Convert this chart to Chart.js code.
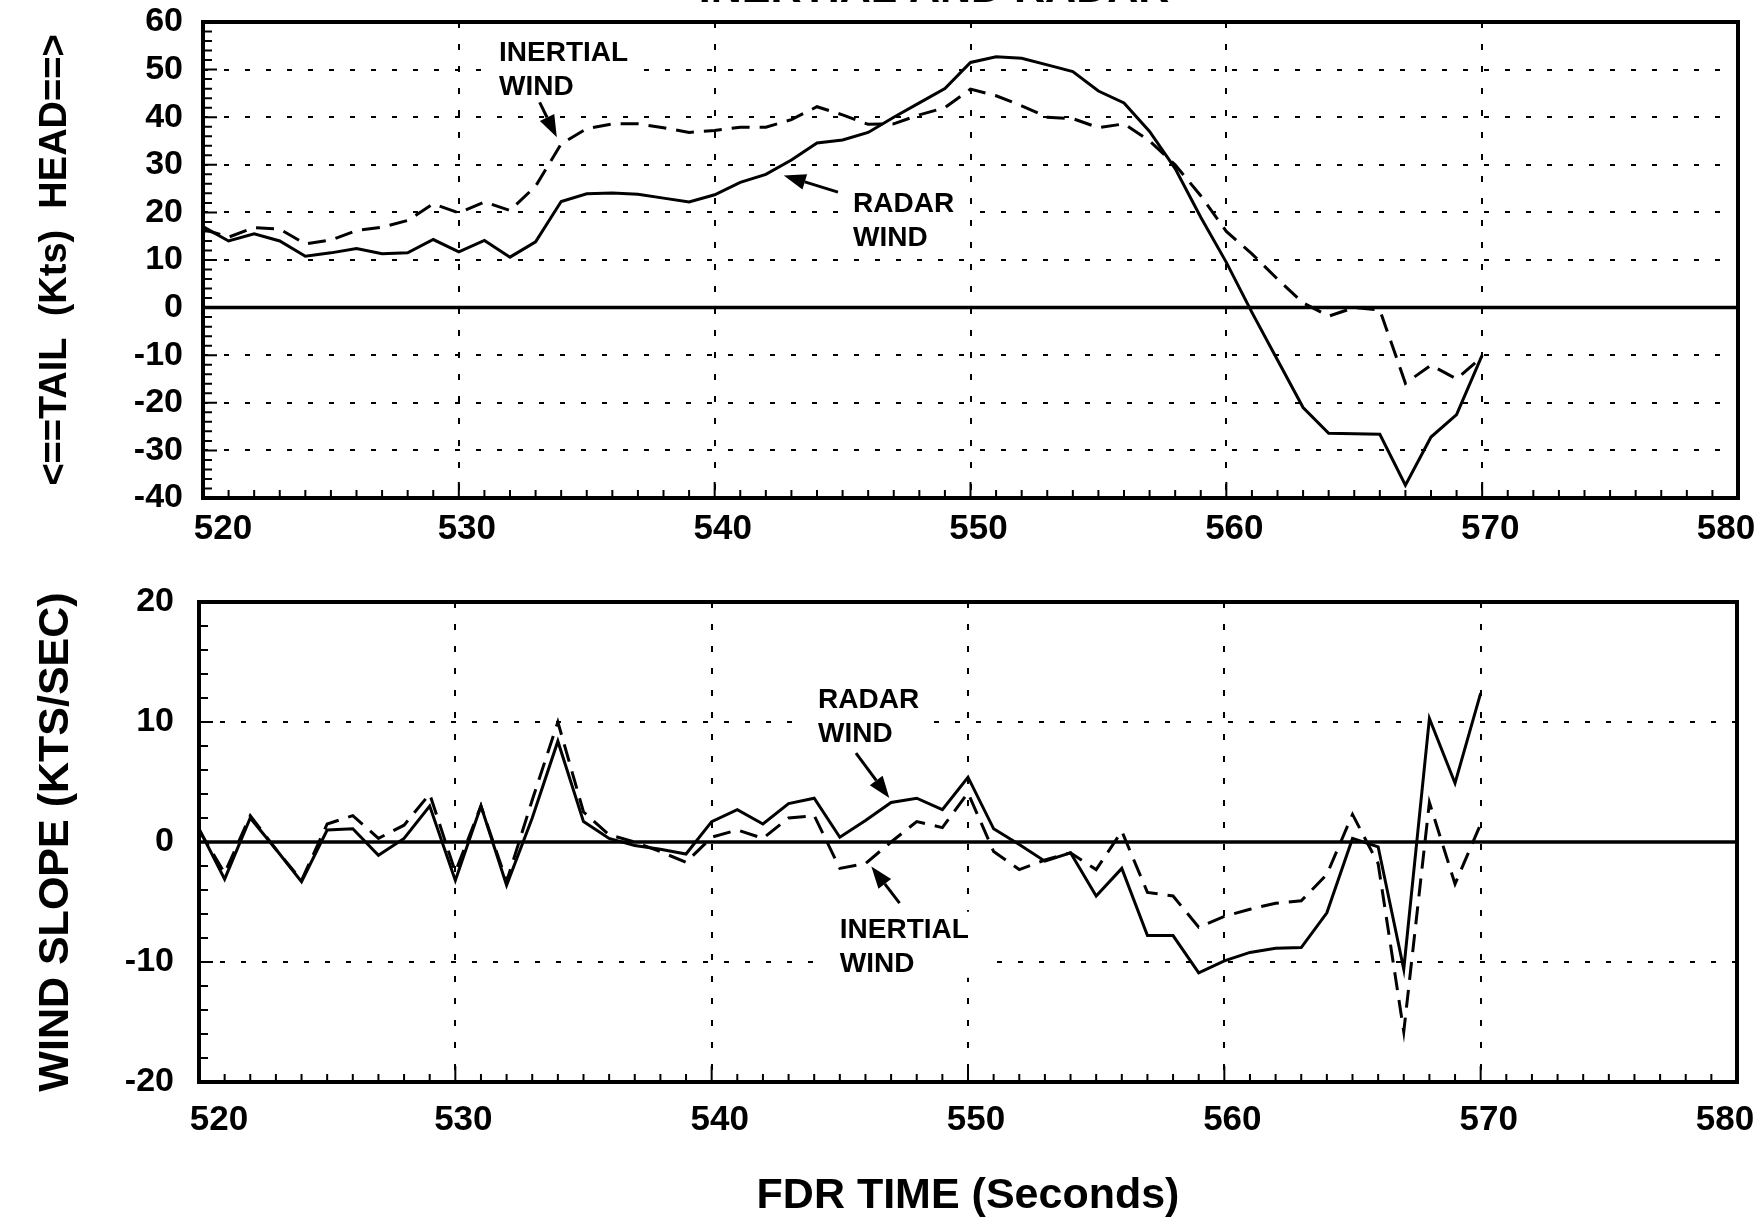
<!DOCTYPE html>
<html>
<head>
<meta charset="utf-8">
<title>Inertial and radar wind</title>
<script src="https://cdn.jsdelivr.net/npm/chart.js@4.4.1/dist/chart.umd.min.js"></script>
<style>
  html, body { margin: 0; padding: 0; background: #fff; }
  #wrap { position: relative; width: 1761px; height: 1218px; overflow: hidden; background: #fff; }
  canvas { position: absolute; left: 0; }
  #windChart { top: 0; }
  #slopeChart { top: 560px; }
</style>
</head>
<body>
<div id="wrap">
  <canvas id="windChart" width="1761" height="560"></canvas>
  <canvas id="slopeChart" width="1761" height="658"></canvas>
</div>
<script>
var FONT = "'Liberation Sans', Arial, Helvetica, sans-serif";

// FDR time, one sample per second
var seconds = [520, 521, 522, 523, 524, 525, 526, 527, 528, 529,
               530, 531, 532, 533, 534, 535, 536, 537, 538, 539,
               540, 541, 542, 543, 544, 545, 546, 547, 548, 549,
               550, 551, 552, 553, 554, 555, 556, 557, 558, 559,
               560, 561, 562, 563, 564, 565, 566, 567, 568, 569, 570];

// upper panel: head / tail wind (kts)
var radarWind = [17, 14, 15.5, 14, 10.8, 11.5, 12.4, 11.3, 11.5, 14.3,
                 11.7, 14.1, 10.6, 13.8, 22.3, 23.9, 24.1, 23.8, 23, 22.2,
                 23.7, 26.3, 28, 31, 34.6, 35.2, 36.8, 40, 43, 46,
                 51.5, 52.7, 52.4, 51, 49.6, 45.5, 43, 37, 29.2, 19,
                 9.5, -1, -11, -21, -26.4, -26.5, -26.6, -37.3, -27.2, -22.5, -10];
var inertialWind = [16.5, 14.8, 16.8, 16.5, 13.4, 14.2, 16.2, 16.9, 18.3, 21.8,
                    19.9, 22.2, 20.4, 25.5, 34.4, 37.6, 38.6, 38.6, 37.8, 36.8,
                    37.2, 37.9, 37.9, 39.5, 42.2, 40.5, 38.5, 38.6, 40.5, 42,
                    45.9, 44.5, 42.4, 40, 39.7, 37.8, 38.6, 35, 30, 23.5,
                    16, 11.3, 6, 1, -1.8, 0, -0.5, -15.9, -12.1, -15, -10.3];

// lower panel: wind slope (kts/sec)
var radarSlope = [1.1, -3.1, 2, -0.6, -3.3, 1, 1.1, -1.1, 0.3, 3,
                  -3.2, 3, -3.6, 2, 8.4, 1.7, 0.3, -0.3, -0.6, -1,
                  1.7, 2.7, 1.5, 3.2, 3.65, 0.4, 1.8, 3.3, 3.65, 2.7,
                  5.4, 1.1, -0.2, -1.6, -0.9, -4.5, -2.2, -7.8, -7.8, -10.9,
                  -9.9, -9.2, -8.85, -8.8, -5.9, 0.3, -0.4, -10.6, 10.3, 4.9, 12.4];
var inertialSlope = [1, -2.6, 2.2, -0.6, -3.2, 1.5, 2.2, 0.3, 1.4, 4,
                     -2.5, 3, -3.3, 3.5, 10, 2.5, 0.6, 0, -0.8, -1.7,
                     0.4, 1, 0.3, 2, 2.2, -2.2, -1.8, 0, 1.7, 1.2,
                     4.1, -0.8, -2.3, -1.5, -0.9, -2.3, 0.9, -4.2, -4.5, -7.1,
                     -6.2, -5.6, -5.1, -4.9, -2.7, 2.3, -1.8, -15.8, 3.3, -3.5, 1.5];

var timeTicks = [520, 530, 540, 550, 560, 570, 580];
var windTicks = [-40, -30, -20, -10, 0, 10, 20, 30, 40, 50, 60];
var slopeTicks = [-20, -10, 0, 10, 20];

function pairs(values) {
  return seconds.map(function (s, i) { return { x: s, y: values[i] }; });
}

function series(label, values, dash) {
  return { label: label, data: pairs(values), borderColor: '#000', borderWidth: 3,
           borderDash: dash, pointRadius: 0, tension: 0, fill: false };
}

function fixedTicks(list) {
  return function (scale) { scale.ticks = list.map(function (v) { return { value: v }; }); };
}

// hide the grid at the frame edges and at zero (zero is drawn solid by the plugin)
function gridColor(list) {
  return function (c) {
    var v = c.tick ? c.tick.value : null;
    return (v === list[0] || v === list[list.length - 1] || v === 0) ? 'rgba(0,0,0,0)' : '#000';
  };
}

function xAxis(boxHeight, title) {
  return {
    type: 'linear', min: timeTicks[0], max: timeTicks[timeTicks.length - 1],
    afterBuildTicks: fixedTicks(timeTicks),
    afterFit: function (s) { s.height = boxHeight; s.paddingLeft = 0; s.paddingRight = 0; },
    grid: { color: gridColor(timeTicks), lineWidth: 2, drawTicks: false },
    border: { display: false, dash: [6, 16] },
    ticks: { display: false },   // labels are set by the sketch plugin
    title: title || { display: false }
  };
}

function yAxis(list, boxWidth, labelPad, titleText, titleSize) {
  return {
    type: 'linear', min: list[0], max: list[list.length - 1],
    afterBuildTicks: fixedTicks(list),
    afterFit: function (s) { s.width = boxWidth; s.paddingTop = 0; s.paddingBottom = 0; },
    grid: { color: gridColor(list), lineWidth: 2, drawTicks: false },
    border: { display: false, dash: [5, 16] },
    ticks: { color: '#000', padding: labelPad, font: { family: FONT, size: 34, weight: 'bold' } },
    title: { display: true, text: titleText, color: '#000',
             font: { family: FONT, size: titleSize, weight: 'bold', lineHeight: 1 },
             padding: { top: 56 - titleSize / 2, bottom: 0 } }
  };
}

function arrow(ctx, x1, y1, x2, y2) {
  var ang = Math.atan2(y2 - y1, x2 - x1), L = 22, W = 8;
  var bx = x2 - L * Math.cos(ang), by = y2 - L * Math.sin(ang);
  ctx.lineWidth = 3;
  ctx.beginPath(); ctx.moveTo(x1, y1); ctx.lineTo(bx, by); ctx.stroke();
  ctx.beginPath();
  ctx.moveTo(x2, y2);
  ctx.lineTo(bx + W * Math.sin(ang), by - W * Math.cos(ang));
  ctx.lineTo(bx - W * Math.sin(ang), by + W * Math.cos(ang));
  ctx.closePath(); ctx.fill();
}

// frame, solid zero line, inner minor ticks, time labels, callout labels
function sketch(cfg) {
  return {
    id: 'sketch',
    beforeDatasetsDraw: function (chart) {
      var ctx = chart.ctx, a = chart.chartArea, x = chart.scales.x, y = chart.scales.y;
      ctx.save();
      ctx.strokeStyle = '#000'; ctx.fillStyle = '#000';

      var y0 = y.getPixelForValue(0);
      ctx.lineWidth = 3.5;
      ctx.beginPath(); ctx.moveTo(a.left, y0); ctx.lineTo(a.right, y0); ctx.stroke();

      ctx.lineWidth = 2;
      ctx.beginPath();
      for (var s = x.min + 1; s < x.max; s++) {
        var px = x.getPixelForValue(s);
        ctx.moveTo(px, a.bottom); ctx.lineTo(px, a.bottom - (s % 10 === 0 ? 16 : 8));
      }
      for (var v = y.min + 2; v < y.max; v += 2) {
        var py = y.getPixelForValue(v);
        ctx.moveTo(a.left, py); ctx.lineTo(a.left + (v % 10 === 0 ? 14 : 9), py);
      }
      ctx.stroke();

      ctx.lineWidth = 4;
      ctx.strokeRect(a.left, a.top, a.right - a.left, a.bottom - a.top);

      // time labels: end labels pulled inside the frame as on the original plot
      ctx.font = 'bold 35px ' + FONT;
      ctx.textAlign = 'center'; ctx.textBaseline = 'middle';
      timeTicks.forEach(function (t, i) {
        var shift = i === 0 ? 20 : (i === timeTicks.length - 1 ? -12 : 8);
        ctx.fillText(String(t), x.getPixelForValue(t) + shift, a.bottom + cfg.labelGap);
      });

      ctx.font = 'bold 28px ' + FONT;
      ctx.textAlign = 'left'; ctx.textBaseline = 'alphabetic';
      cfg.notes.forEach(function (n) {
        var tx = x.getPixelForValue(n.at[0]), ty = y.getPixelForValue(n.at[1]);
        var w = Math.max.apply(null, n.text.map(function (t) { return ctx.measureText(t).width; }));
        ctx.fillStyle = '#fff';
        ctx.fillRect(tx - 14, ty - 26, w + 28, 34 * (n.text.length - 1) + 32);
        ctx.fillStyle = '#000';
        n.text.forEach(function (t, i) { ctx.fillText(t, tx, ty + 34 * i); });
        arrow(ctx, x.getPixelForValue(n.from[0]), y.getPixelForValue(n.from[1]),
                   x.getPixelForValue(n.to[0]), y.getPixelForValue(n.to[1]));
      });

      if (cfg.heading) {
        ctx.font = 'bold 43px ' + FONT;
        ctx.textAlign = 'center';
        ctx.fillText(cfg.heading.text, cfg.heading.x, cfg.heading.y);
      }
      ctx.restore();
    }
  };
}

var base = { responsive: false, animation: false, devicePixelRatio: 1,
             plugins: { legend: { display: false }, tooltip: { enabled: false } } };

new Chart(document.getElementById('windChart'), {
  type: 'line',
  data: { datasets: [series('Radar wind', radarWind, []), series('Inertial wind', inertialWind, [18, 10])] },
  options: Object.assign({}, base, {
    layout: { padding: { top: 22, right: 23, left: 0, bottom: 0 } },
    scales: {
      x: xAxis(62),
      y: yAxis(windTicks, 203, 20, '<==TAIL  (Kts)  HEAD==>', 38)
    }
  }),
  plugins: [sketch({
    labelGap: 31,
    heading: { text: 'INERTIAL AND RADAR', x: 934, y: 2 },
    notes: [
      { text: ['INERTIAL', 'WIND'], at: [531.57, 51.86], from: [533.16, 43.1], to: [533.83, 35.8] },
      { text: ['RADAR', 'WIND'], at: [545.41, 20.0], from: [544.82, 24.26], to: [542.7, 27.76] }
    ]
  })]
});

new Chart(document.getElementById('slopeChart'), {
  type: 'line',
  data: { datasets: [series('Radar wind', radarSlope, []), series('Inertial wind', inertialSlope, [18, 10])] },
  options: Object.assign({}, base, {
    layout: { padding: { top: 42, right: 24, left: 0, bottom: 0 } },
    scales: {
      x: xAxis(136, { display: true, text: 'FDR TIME (Seconds)', color: '#000',
                      font: { family: FONT, size: 43, weight: 'bold', lineHeight: 0.8 },
                      padding: { top: 0, bottom: 5 } }),
      y: yAxis(slopeTicks, 199, 25, 'WIND SLOPE (KTS/SEC)', 43)
    }
  }),
  plugins: [sketch({
    labelGap: 38,
    notes: [
      { text: ['RADAR', 'WIND'], at: [544.15, 11.18], from: [545.63, 7.41], to: [546.93, 3.66] },
      { text: ['INERTIAL', 'WIND'], at: [545.0, -7.98], from: [547.33, -5.09], to: [546.23, -2.04] }
    ]
  })]
});
</script>
</body>
</html>
